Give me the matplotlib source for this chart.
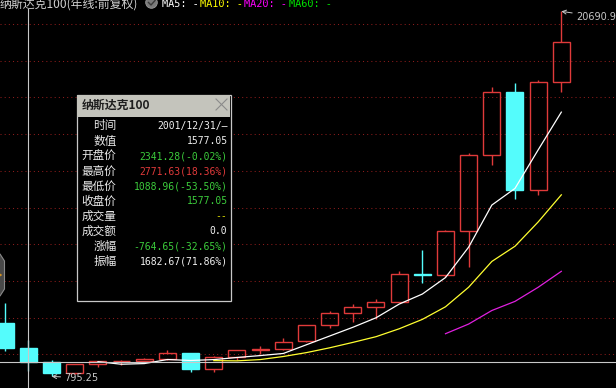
import matplotlib
matplotlib.use("Agg")
import matplotlib.pyplot as plt
from matplotlib.patches import Rectangle, Polygon, Circle
import pandas as pd
import numpy as np

# ---------------- data ----------------
years = list(range(2000, 2025))
opens = [3708.0, 2341.28, 1577.05, 984.4, 1468.0, 1621.0, 1645.0, 1757.0, 2085.0, 1212.0,
         1860.0, 2218.0, 2278.0, 2733.0, 3592.0, 4236.0, 4593.0, 4864.0, 6397.0, 6330.0,
         8733.0, 12888.0, 16320.0, 10940.0, 16826.0]
highs = [4816.0, 2771.63, 1675.0, 1490.0, 1636.0, 1713.0, 1774.0, 2239.0, 2086.0, 1883.0,
         2229.0, 2440.0, 2878.0, 3592.0, 4337.0, 4719.0, 4987.0, 6513.0, 7700.0, 8778.0,
         12973.0, 16573.0, 16765.0, 16969.0, 20690.97]
lows = [2193.0, 1088.96, 795.25, 938.0, 1304.0, 1406.0, 1503.0, 1705.0, 1018.0, 1043.0,
        1701.0, 1998.0, 2258.0, 2692.0, 3412.0, 3787.0, 3947.0, 4861.0, 5895.0, 6190.0,
        6771.0, 12299.0, 10440.0, 10696.0, 16300.0]
closes = [2341.70, 1577.05, 984.36, 1467.92, 1621.12, 1645.20, 1756.90, 2084.93, 1211.65, 1860.31,
          2217.86, 2277.83, 2660.93, 3592.00, 4236.28, 4593.27, 4863.62, 6396.42, 6329.96, 8733.07,
          12888.28, 16320.08, 10939.76, 16825.93, 19020.0]
ma_periods = [5, 10, 20, 60]
grid_levels = [2000, 4000, 6000, 8000, 10000, 12000, 14000, 16000, 18000, 20000]

title_text = "纳斯达克100(年线:前复权)"
legend_labels = ["MA5: -", "MA10: -", "MA20: -", "MA60: -"]

box_title = "纳斯达克100"
box_labels = ["时间", "数值", "开盘价", "最高价", "最低价", "收盘价", "成交量", "成交额", "涨幅", "振幅"]
box_values = ["2001/12/31/—", "1577.05", "2341.28(-0.02%)", "2771.63(18.36%)", "1088.96(-53.50%)",
              "1577.05", "--", "0.0", "-764.65(-32.65%)", "1682.67(71.86%)"]
sel_index = 1  # 2001 candle under crosshair

# ---------------- styles ----------------
RED = "#e03a3a"
CYAN = "#54fcfc"
GRID = "#8c1c1c"
MA_COLORS = ["#ffffff", "#ffff30", "#e020e0", "#00e000"]
HDR_COLORS = ["#ffffff", "#ffff00", "#ff00ff", "#00e000"]
VAL_COLORS = ["#f0f0f0", "#f0f0f0", "#3ccc3c", RED, "#3ccc3c", "#3ccc3c", "#d8d800",
              "#f0f0f0", "#3ccc3c", "#f0f0f0"]

W, H = 616, 388
fig = plt.figure(figsize=(W / 100, H / 100), dpi=100, facecolor="black")
ax = fig.add_axes([0, 0, 1, 1], facecolor="black")
ax.set_axis_off()
ax.set_xlim(-0.230, 26.36)
ax.set_ylim(163.5, 21310)

x = np.arange(len(years))
half = 0.367

# grid
for g in grid_levels:
    ax.axhline(g, color=GRID, lw=0.75, ls=(0, (1, 3)), zorder=1)

# candles
for i in range(len(years)):
    o, h, l, c = opens[i], highs[i], lows[i], closes[i]
    if c >= o:
        ax.add_patch(Rectangle((x[i] - half, o), 2 * half, c - o, facecolor="none",
                               edgecolor=RED, lw=1.0, zorder=3))
        ax.plot([x[i], x[i]], [c, h], color=RED, lw=1.0, zorder=3, solid_capstyle="butt")
        ax.plot([x[i], x[i]], [l, o], color=RED, lw=1.0, zorder=3, solid_capstyle="butt")
    else:
        ax.plot([x[i], x[i]], [l, h], color=CYAN, lw=1.0, zorder=3, solid_capstyle="butt")
        ax.add_patch(Rectangle((x[i] - half, c), 2 * half, o - c, facecolor=CYAN,
                               edgecolor=CYAN, lw=1.0, zorder=3))

# moving averages
s = pd.Series(closes)
for p, col in zip(ma_periods, MA_COLORS):
    ma = s.rolling(p).mean()
    ax.plot(x, ma.values, color=col, lw=0.9, zorder=4)

# crosshair
ax.axvline(x[sel_index], ymin=0, ymax=1 - 9 / H, color="#c8c8c8", lw=0.8, zorder=5)
ax.axhline(closes[sel_index], color="#c8c8c8", lw=0.8, zorder=5)

# min / max annotations
imin = int(np.argmin(lows))
imax = int(np.argmax(highs))
ax.annotate(f"{lows[imin]:.2f}", xy=(x[imin], lows[imin]), xytext=(13, -1.5),
            textcoords="offset pixels", ha="left", va="center", color="#c8c8c8",
            fontsize=7, family="DejaVu Sans", zorder=6,
            arrowprops=dict(arrowstyle="->", color="#c8c8c8", lw=0.7, shrinkA=1, shrinkB=0))
ax.annotate(f"{highs[imax]:.2f}", xy=(x[imax], highs[imax]), xytext=(15, -5.5),
            textcoords="offset pixels", ha="left", va="center", color="#c8c8c8",
            fontsize=7, family="DejaVu Sans", zorder=6, annotation_clip=False,
            arrowprops=dict(arrowstyle="->", color="#c8c8c8", lw=0.7, shrinkA=1, shrinkB=0))

# ---------------- overlay (pixel coordinates) ----------------
ov = fig.add_axes([0, 0, 1, 1], facecolor="none")
ov.set_axis_off()
ov.set_xlim(0, W)
ov.set_ylim(H, 0)

# header
ov.text(138, 7.5, title_text, ha="right", va="baseline", color="#d0d0d0", fontsize=8.6,
        family=["Noto Sans CJK SC", "DejaVu Sans"])
ov.add_patch(Circle((151.5, 2.5), 5.8, facecolor="#7a7a7a", edgecolor="#9a9a9a", lw=0.6))
ov.plot([148.5, 151, 155], [2.5, 5, 0.5], color="#3a3a3a", lw=1.0)
hx = [162, 200, 244, 289]
for xx, lab, col in zip(hx, legend_labels, HDR_COLORS):
    ov.text(xx, 7.2, lab, ha="left", va="baseline", color=col, fontsize=7.4,
            family="DejaVu Sans Mono")

# left-edge scroll handle
ov.add_patch(Polygon([(-10, 254), (0, 254), (4.5, 261), (4.5, 289), (0, 296), (-10, 296)],
                     closed=True, facecolor="#484848", edgecolor="#8a8a8a", lw=0.8, zorder=2))
ov.add_patch(Circle((0.5, 275), 1.2, facecolor="#d09020", edgecolor="none", zorder=3))

# info box
bx0, bx1, by0, by1 = 76.5, 230.5, 94.5, 300.5
ov.add_patch(Rectangle((bx0, by0), bx1 - bx0, by1 - by0, facecolor="black",
                       edgecolor="#c8c8c8", lw=0.9, zorder=10))
ov.add_patch(Rectangle((bx0 + 0.5, by0 + 0.5), bx1 - bx0 - 1, 21.5, facecolor="#c4c4bc",
                       edgecolor="none", zorder=11))
ov.text(82, 105.5, box_title, ha="left", va="center", color="#1e1e1e", fontsize=8.6,
        fontweight="bold", family=["Noto Sans CJK SC", "DejaVu Sans"], zorder=12)
ov.plot([216, 227], [99, 110], color="#8a8a8a", lw=0.8, zorder=12)
ov.plot([216, 227], [110, 99], color="#8a8a8a", lw=0.8, zorder=12)

row_y0, row_dy = 126, 15
for k, (lab, val, col) in enumerate(zip(box_labels, box_values, VAL_COLORS)):
    yy = row_y0 + k * row_dy
    ov.text(116.5, yy, lab, ha="right", va="center", color="#e8e8e8", fontsize=8.4,
            family=["Noto Sans CJK SC", "DejaVu Sans"], zorder=12)
    ov.text(227.5, yy + 0.5, val, ha="right", va="center", color=col, fontsize=7.05,
            family=["DejaVu Sans Mono", "Noto Sans CJK SC"], zorder=12)

fig.savefig("out.png", dpi=100, facecolor="black")
